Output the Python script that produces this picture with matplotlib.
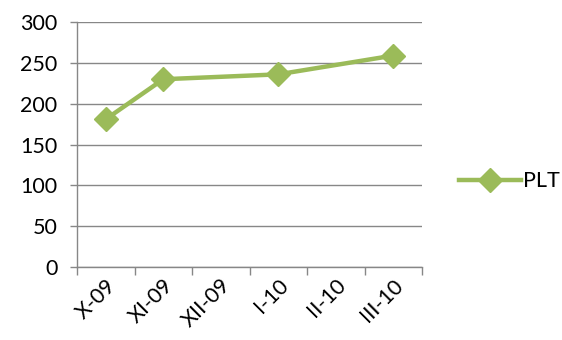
import numpy as np
import matplotlib.pyplot as plt

plt.rcParams['font.family'] = ['Lato', 'DejaVu Sans']

months = ['X-09', 'XI-09', 'XII-09', 'I-10', 'II-10', 'III-10']
plt_vals = [181, 230, None, 236, None, 259]
y_ticks = [0, 50, 100, 150, 200, 250, 300]

green = '#9bbb59'
grey = '#878787'

fig = plt.figure(figsize=(5.62, 3.40), dpi=100)
ax = fig.add_axes([0.137, 0.2147, 0.614, 0.7203])

# Excel style: gaps are bridged, missing months get no marker
xs = np.array([i for i, v in enumerate(plt_vals) if v is not None], dtype=float)
ys = np.array([v for v in plt_vals if v is not None], dtype=float)
ax.plot(xs + 0.5, ys, color=green, lw=3.2, marker='D', ms=12,
        mec=green, mfc=green, label='PLT', solid_joinstyle='round')

ax.set_xlim(0, len(months))
ax.set_ylim(0, 300)
ax.set_yticks(y_ticks)
ax.set_xticks(np.arange(len(months) + 1))
ax.set_xticklabels([])
ax.set_xticks(np.arange(len(months)) + 0.5, minor=True)
ax.set_xticklabels(months, minor=True, rotation=45, ha='right',
                   rotation_mode='anchor', fontsize=15.5)
ax.tick_params(axis='x', which='minor', length=0, pad=6)
ax.tick_params(axis='x', which='major', length=6, color=grey, width=1)
ax.tick_params(axis='y', length=5, color=grey, width=1, labelsize=15.5, pad=9)

ax.grid(axis='y', color=grey, lw=1)
ax.set_axisbelow(True)
for s in ['top', 'right']:
    ax.spines[s].set_visible(False)
for s in ['left', 'bottom']:
    ax.spines[s].set_color(grey)
    ax.spines[s].set_linewidth(1)

ax.legend(loc='center left', bbox_to_anchor=(1.05, 0.35), frameon=False,
          fontsize=15.5, handlelength=2.9, handletextpad=0.1)

fig.savefig('out.png', dpi=100)
